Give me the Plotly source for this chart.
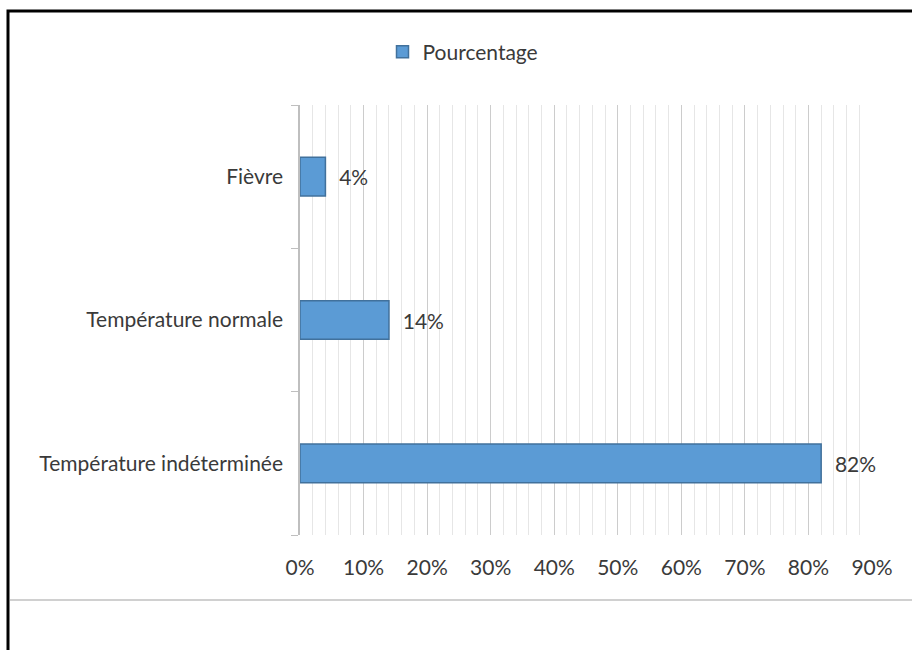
import plotly.graph_objects as go

categories = ["Fièvre", "Température normale", "Température indéterminée"]
values = [0.04, 0.14, 0.82]
series_name = "Pourcentage"
x_ticks = [0.0, 0.1, 0.2, 0.3, 0.4, 0.5, 0.6, 0.7, 0.8, 0.9]

W, H = 912, 650
L, R, T, B = 300, 40, 105, 115
pw, ph = W - L - R, H - T - B

def px(x):
    return (x - L) / pw

def py(y):
    return (H - B - y) / ph

FONT = "Lato, 'Open Sans', sans-serif"
FS = 21
TXT = "#3a3a3a"

fig = go.Figure()
fig.add_trace(go.Bar(
    x=values, y=categories, orientation="h", name=series_name,
    marker=dict(color="#5B9BD5", line=dict(color="#41719C", width=1.5)),
    width=0.27,
    text=values, texttemplate="  %{x:.0%}", textposition="outside",
    textfont=dict(size=FS, color=TXT, family=FONT),
    cliponaxis=False,
))

fig.update_layout(
    width=W, height=H,
    margin=dict(l=L, r=R, t=T, b=B),
    paper_bgcolor="white", plot_bgcolor="white",
    font=dict(family=FONT, size=FS, color=TXT),
    showlegend=True,
    legend=dict(orientation="h", x=px(463), y=py(52), xanchor="center", yanchor="middle",
                font=dict(size=FS, color=TXT), itemwidth=30),
    xaxis=dict(range=[0, 0.9], tickvals=x_ticks, tickformat=".0%",
               showgrid=True, gridcolor="#cccccc", gridwidth=1,
               minor=dict(dtick=0.02, showgrid=True, gridcolor="#e6e6e6", gridwidth=1),
               zeroline=False, showline=False, ticks="",
               tickfont=dict(size=FS, color=TXT), ticklabelstandoff=18),
    yaxis=dict(categoryorder="array", categoryarray=categories[::-1],
               showline=True, linecolor="#bfbfbf", linewidth=1.5,
               ticks="outside", ticklen=7, tickcolor="#bfbfbf", tickson="boundaries",
               showgrid=False, tickfont=dict(size=FS, color=TXT),
               ticklabelstandoff=11),
    bargap=0.73,
)

# outer black frame and bottom separator line
fig.add_shape(type="rect", xref="paper", yref="paper",
              x0=px(8), x1=px(918), y0=py(11), y1=py(660),
              line=dict(color="black", width=3), layer="above")
fig.add_shape(type="line", xref="paper", yref="paper",
              x0=px(10), x1=px(912), y0=py(600), y1=py(600),
              line=dict(color="#d0d0d0", width=2))

fig.write_html("out.html")
